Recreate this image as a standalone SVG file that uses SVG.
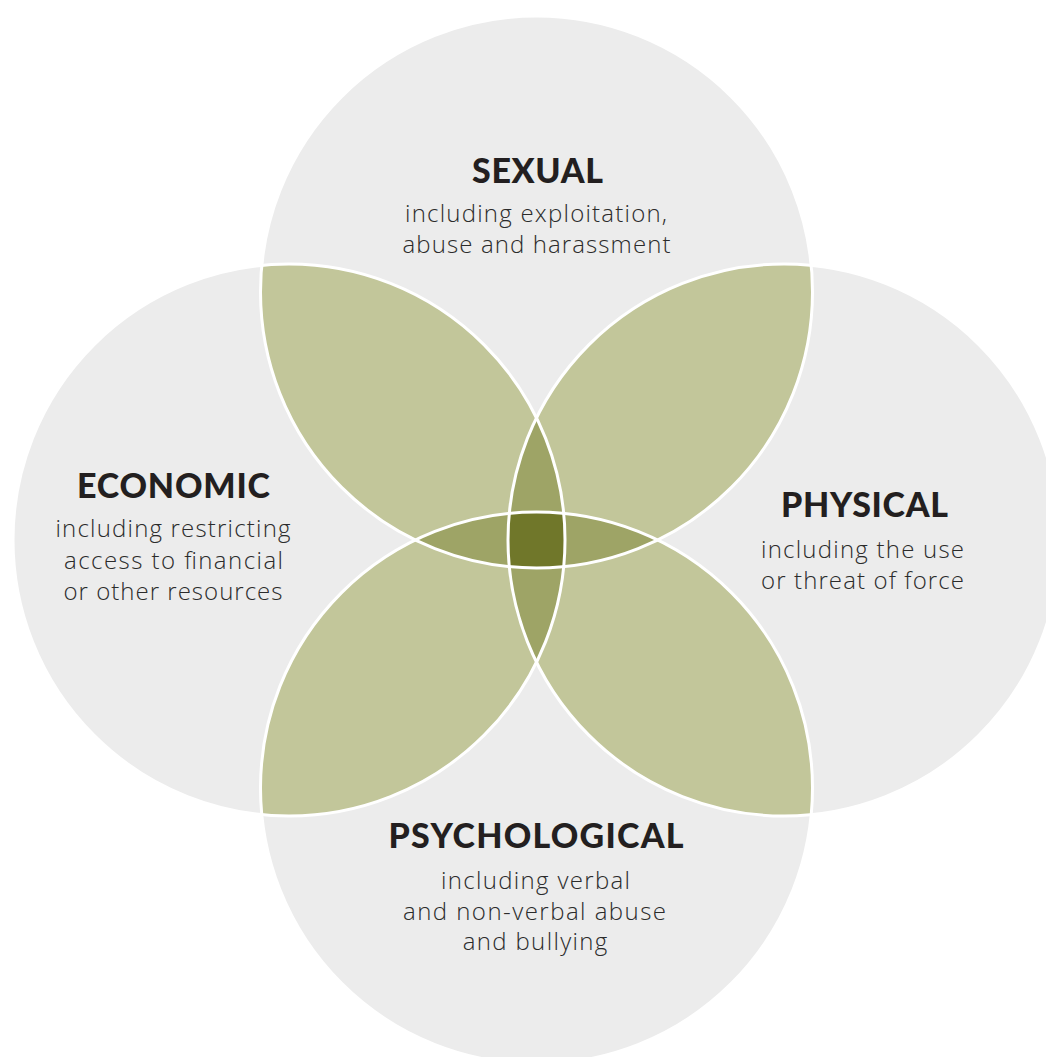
<svg xmlns="http://www.w3.org/2000/svg" width="1046" height="1057" viewBox="0 0 1046 1057">
  <style>
    .base { fill: #ececec; }
    .lens { fill: #c2c69a; }
    .lens3 { fill: #9ea466; }
    .lens4 { fill: #70772a; }
    .edge { fill: none; stroke: #ffffff; stroke-width: 3; }
    .title { font-family: Lato, "Open Sans", "Liberation Sans", sans-serif; font-weight: 900; font-size: 34px; fill: #231f20; text-anchor: middle; }
    .body { font-family: "Open Sans", Lato, "Liberation Sans", sans-serif; font-weight: 300; font-size: 24px; fill: #2b2b2b; text-anchor: middle; }
  </style>
  <defs>
    <clipPath id="cT"><circle cx="536.5" cy="292" r="276"/></clipPath>
    <clipPath id="cB"><circle cx="536.5" cy="788" r="276"/></clipPath>
    <clipPath id="cL"><circle cx="289" cy="540" r="276"/></clipPath>
    <clipPath id="cR"><circle cx="784" cy="540" r="276"/></clipPath>
  </defs>
  <rect width="1046" height="1057" fill="#ffffff"/>

  <g id="sexual">
    <circle class="base" cx="536.5" cy="292" r="276"/>
  </g>
  <g id="economic">
    <circle class="base" cx="289" cy="540" r="276"/>
  </g>
  <g id="physical">
    <circle class="base" cx="784" cy="540" r="276"/>
  </g>
  <g id="psychological">
    <circle class="base" cx="536.5" cy="788" r="276"/>
  </g>

  <g id="overlaps">
    <circle class="lens" cx="536.5" cy="292" r="276" clip-path="url(#cL)"/>
    <circle class="lens" cx="536.5" cy="292" r="276" clip-path="url(#cR)"/>
    <circle class="lens" cx="536.5" cy="788" r="276" clip-path="url(#cL)"/>
    <circle class="lens" cx="536.5" cy="788" r="276" clip-path="url(#cR)"/>
    <circle class="lens3" cx="289" cy="540" r="276" clip-path="url(#cR)"/>
    <circle class="lens3" cx="536.5" cy="292" r="276" clip-path="url(#cB)"/>
    <g clip-path="url(#cT)">
      <g clip-path="url(#cB)">
        <circle class="lens4" cx="289" cy="540" r="276" clip-path="url(#cR)"/>
      </g>
    </g>
  </g>

  <g id="edges">
    <circle class="edge" cx="536.5" cy="292" r="276"/>
    <circle class="edge" cx="289" cy="540" r="276"/>
    <circle class="edge" cx="784" cy="540" r="276"/>
    <circle class="edge" cx="536.5" cy="788" r="276"/>
  </g>

  <g id="sexual-label">
    <text class="title" x="537.5" y="183" textLength="131">SEXUAL</text>
    <text class="body" x="536" y="222" textLength="262">including exploitation,</text>
    <text class="body" x="536.5" y="253" textLength="268">abuse and harassment</text>
  </g>
  <g id="economic-label">
    <text class="title" x="173.5" y="498" textLength="193">ECONOMIC</text>
    <text class="body" x="173" y="537" textLength="235">including restricting</text>
    <text class="body" x="173.5" y="569" textLength="219">access to financial</text>
    <text class="body" x="173" y="600" textLength="219">or other resources</text>
  </g>
  <g id="physical-label">
    <text class="title" x="864.5" y="517" textLength="167">PHYSICAL</text>
    <text class="body" x="862.5" y="558" textLength="203">including the use</text>
    <text class="body" x="862.5" y="588.5" textLength="203">or threat of force</text>
  </g>
  <g id="psychological-label">
    <text class="title" x="536" y="848" textLength="295">PSYCHOLOGICAL</text>
    <text class="body" x="535.5" y="888.5" textLength="189">including verbal</text>
    <text class="body" x="534.5" y="920" textLength="263">and non-verbal abuse</text>
    <text class="body" x="535" y="950" textLength="144.5">and bullying</text>
  </g>
</svg>
